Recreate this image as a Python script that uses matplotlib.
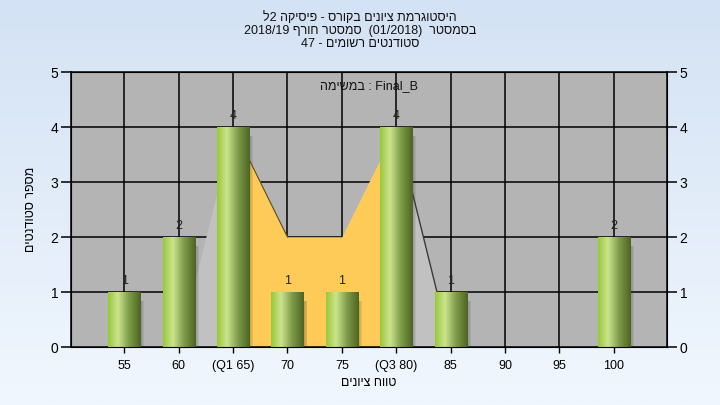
import re

import matplotlib
matplotlib.use("Agg")
import matplotlib.pyplot as plt
import numpy as np
from matplotlib.colors import LinearSegmentedColormap
from matplotlib.patches import Rectangle


# data
grades = ["55", "60", "65", "70", "75", "80", "85", "90", "95", "100"]
tick_labels = ["55", "60", "(Q1 65)", "70", "75", "(Q3 80)", "85", "90", "95", "100"]
counts = [1, 2, 4, 1, 1, 4, 1, 0, 0, 2]
curve = [0, 0, 4, 2, 2, 4, 0, 0, 0, 0]
q1_index = 2
q3_index = 5

title_lines = [
    "היסטוגרמת ציונים בקורס - פיסיקה 2ל",
    "בסמסטר  (01/2018)  סמסטר חורף 2018/19",
    "סטודנטים רשומים - 47",
]
x_title = "טווח ציונים"
y_title = "מספר סטודנטים"
task_note = "המישמב : Final_B"


def rtl(text):
    # crude visual reordering for right-to-left text (no bidi lib here)
    tokens = re.findall(r"[0-9A-Za-z/._]+|.", text)
    mirror = {"(": ")", ")": "("}
    out = []
    for tok in reversed(tokens):
        if re.match(r"[0-9A-Za-z/._]", tok):
            out.append(tok)
        else:
            out.append(mirror.get(tok, tok))
    return "".join(out)


plt.rcParams["font.family"] = ["Liberation Sans", "DejaVu Sans"]

fig = plt.figure(figsize=(7.2, 4.05), dpi=100)

# light blue gradient background
bg = fig.add_axes([0, 0, 1, 1], zorder=-10)
grad = np.linspace(0, 1, 256).reshape(-1, 1)
bg_cmap = LinearSegmentedColormap.from_list("bg", ["#D3E2F4", "#F1F7FE"])
bg.imshow(grad, aspect="auto", cmap=bg_cmap, extent=(0, 1, 0, 1), origin="upper")
bg.axis("off")

ax = fig.add_axes([0.0986, 0.1432, 0.8278, 0.679])
ax.set_facecolor("#B4B4B4")
x = np.arange(len(grades))

# grid lines
for yv in range(1, 6):
    ax.axhline(yv, color="black", lw=1.1, zorder=1)
for xv in x:
    ax.axvline(xv, color="black", lw=1.1, zorder=1)

# curve area: light gray outside the quartiles, orange inside
ax.fill_between(x, curve, color="#C1C1C1", lw=0, zorder=2)
inner = slice(q1_index, q3_index + 1)
ax.fill_between(x[inner], np.array(curve)[inner], color="#FFCB58", lw=0, zorder=2.5)
ax.plot(x[q3_index:q3_index + 2], curve[q3_index:q3_index + 2], color="#3A3A3A",
        lw=1.0, zorder=2.6)
ax.plot(x[q1_index:q1_index + 2], curve[q1_index:q1_index + 2], color="#5A4A20",
        lw=0.8, zorder=2.6)

# cylinder-like bars
bar_w = 0.59
bar_cmap = LinearSegmentedColormap.from_list(
    "bar", [(0, "#98C83A"), (0.3, "#CBE48E"), (0.65, "#7E9A48"), (1.0, "#4B6522")]
)
shade = np.linspace(0, 1, 128).reshape(1, -1)
for xi, c in zip(x, counts):
    if c == 0:
        continue
    for k, a in enumerate([0.08, 0.08, 0.09, 0.10]):
        off = 0.02 + 0.018 * k
        ax.add_patch(Rectangle((xi - bar_w / 2 + off, -0.05), bar_w, c - 0.12,
                               color="#3A3A3A", alpha=a, lw=0, zorder=3))
    ax.imshow(shade, aspect="auto", cmap=bar_cmap,
              extent=(xi - bar_w / 2, xi + bar_w / 2, 0, c), zorder=4)
    ax.text(xi, c + 0.1, str(c), ha="center", va="bottom", fontsize=9,
            color="#222222", zorder=5)

ax.set_xlim(-0.98, len(grades) - 0.02)
ax.set_ylim(0, 5)

ax.set_xticks(x)
ax.set_xticklabels(tick_labels, fontsize=9)
ax.set_yticks(range(6))
ax.tick_params(axis="y", labelsize=10, length=7, width=1.1, pad=2)
ax.tick_params(axis="x", length=4, width=1, pad=5)
for side in ["top", "right", "left", "bottom"]:
    ax.spines[side].set_color("black")
    ax.spines[side].set_linewidth(1.1)

right = ax.twinx()
right.set_ylim(0, 5)
right.set_yticks(range(6))
right.tick_params(axis="y", labelsize=10, length=7, width=1.1, pad=2)

ax.text(0.5, 0.95, task_note, transform=ax.transAxes, ha="center", va="center",
        fontsize=9, color="#111111", zorder=6)

ax.set_xlabel(rtl(x_title), fontsize=9, labelpad=4)
ax.set_ylabel(rtl(y_title), fontsize=9, labelpad=10)

for i, line in enumerate(title_lines):
    fig.text(0.5, 1 - (18 + 13 * i) / 405, rtl(line), ha="center", va="center",
             fontsize=9, color="#111111")

fig.savefig("out.png", dpi=100)
